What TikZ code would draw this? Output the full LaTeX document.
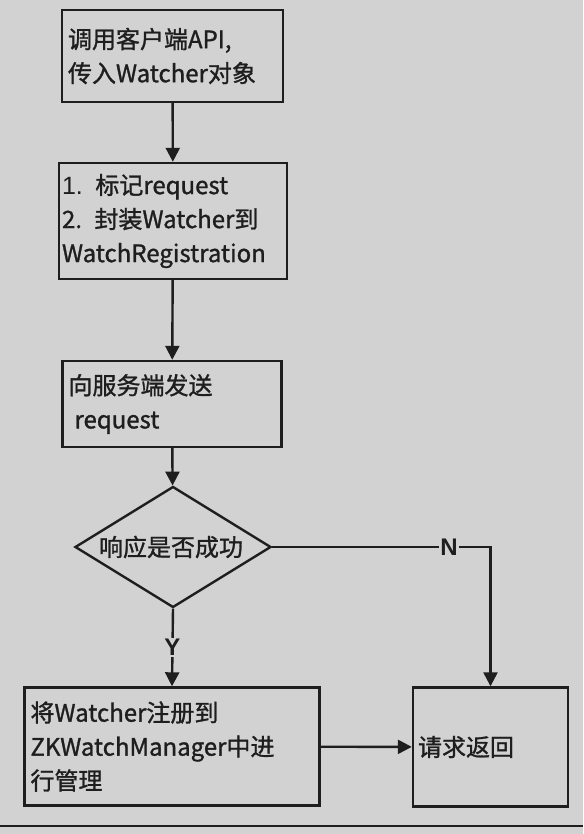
\documentclass[tikz,border=0pt]{standalone}
\usepackage{fontspec}
\setmainfont{Liberation Sans}
\newfontfamily\cjk[Scale=0.96,FakeBold=1.2]{Noto Sans CJK SC}
\usetikzlibrary{arrows.meta,shapes.geometric}
\definecolor{paper}{HTML}{D2D2D2}
\definecolor{ink}{HTML}{1E1E1E}
\begin{document}
\begin{tikzpicture}[x=1pt,y=-1pt,
  box/.style={draw=ink, line width=2.4pt, fill=paper, inner sep=0pt, text=ink,
    font=\fontsize{25}{34}\selectfont, align=left},
  dia/.style={draw=ink, line width=2.4pt, fill=paper, shape=diamond, inner sep=0pt,
    minimum width=196pt, minimum height=121pt},
  arr/.style={draw=ink, line width=2.4pt, -{Triangle[width=14pt,length=14pt]}},
  lab/.style={fill=paper, inner sep=1pt, text=ink, font=\fontsize{24}{24}\selectfont\bfseries}
]
\useasboundingbox (0,0) rectangle (583,834);
\fill[paper] (0,0) rectangle (583,834);

\node[box, minimum width=221pt, minimum height=92pt, text width=209pt] (b1) at (172.5,56)
  {\cjk{调用客户端}API,\\\cjk{传入}Watcher\cjk{对象}};
\node[box, minimum width=228pt, minimum height=116pt, text width=222pt] (b2) at (173,221)
  {1. \cjk{标记}request\\2. \cjk{封装}Watcher\cjk{到}\\WatchRegistration};
\node[box, minimum width=219pt, minimum height=86pt, text width=207pt] (b3) at (172,404)
  {\cjk{向服务端发送}\\\hspace*{6pt}request};
\node[dia] (d) at (173,547) {};
\node[text=ink, font=\fontsize{25}{34}\selectfont, inner sep=0pt] (dt) at (171,547) {\cjk{响应是否成功}};
\node[box, minimum width=295pt, minimum height=118pt, text width=283pt] (b4) at (172,746.5)
  {\cjk{将}Watcher\cjk{注册到}\\ZKWatchManager\cjk{中进}\\\cjk{行管理}};
\node[box, minimum width=155pt, minimum height=119pt, text width=145pt] (b5) at (490.5,747)
  {\cjk{请求返回}};

\draw[arr] (b1) -- (b2);
\draw[arr] (b2) -- (b3);
\draw[arr] (b3) -- (d);
\draw[arr] (d.south) -- node[lab, pos=0.5] {Y} (b4.north);
\draw[arr] (d.east) -- node[lab, pos=0.81] {N} (d.east -| b5.north) -- (b5.north);
\draw[arr] (b4) -- (b5);

\coordinate (rl) at (0,826);
\coordinate (rr) at (583,826);
\draw[ink, line width=1.6pt] (rl) -- (rr);
\end{tikzpicture}
\end{document}
